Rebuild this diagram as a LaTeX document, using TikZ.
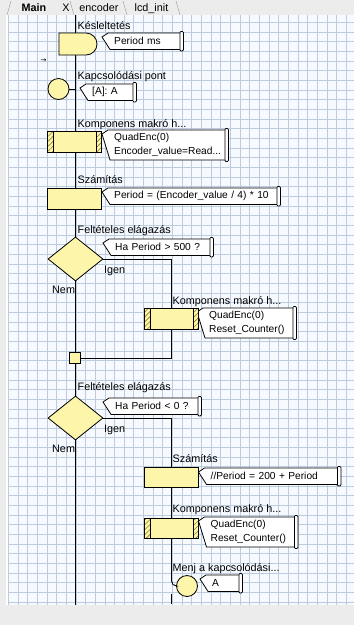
\documentclass[tikz,border=0pt]{standalone}
\usepackage{fontspec}
\setmainfont{Liberation Sans}
\newfontfamily\symfont{DejaVu Sans}
\usetikzlibrary{shapes.geometric, shapes.misc, patterns.meta, backgrounds, calc}
\definecolor{flowyellow}{RGB}{253, 246, 170}
\definecolor{hatchbrown}{RGB}{140, 120, 40}
\definecolor{gridblue}{RGB}{188, 204, 222}
\definecolor{paperblue}{RGB}{246, 250, 255}
\definecolor{panelgray}{RGB}{236, 236, 236}
\definecolor{tabline}{RGB}{150, 150, 150}

\begin{document}
\begin{tikzpicture}[
  x=1pt, y=-1pt,
  lbl/.style={anchor=base west, inner sep=0pt, font=\fontsize{10.8}{12}\selectfont},
  tabtxt/.style={anchor=base, inner sep=0pt, font=\fontsize{10.8}{12}\selectfont},
  fshape/.style={draw, line width=0.8pt, fill=flowyellow, inner sep=0pt},
  calcbox/.style={fshape, rectangle, minimum width=54pt, minimum height=21pt},
  macrobox/.style={calcbox, path picture={
      \fill[pattern={Lines[angle=45, distance=3.5pt, line width=0.6pt]}, pattern color=hatchbrown]
        (path picture bounding box.north west) rectangle ([xshift=6pt]path picture bounding box.south west);
      \fill[pattern={Lines[angle=45, distance=3.5pt, line width=0.6pt]}, pattern color=hatchbrown]
        (path picture bounding box.north east) rectangle ([xshift=-5pt]path picture bounding box.south east);
      \draw[line width=0.8pt] ([xshift=6pt]path picture bounding box.north west) -- ([xshift=6pt]path picture bounding box.south west);
      \draw[line width=0.8pt] ([xshift=-5pt]path picture bounding box.north east) -- ([xshift=-5pt]path picture bounding box.south east);
    }},
  delaybox/.style={fshape, rounded rectangle, rounded rectangle left arc=none, minimum width=38pt, minimum height=22pt},
  pointc/.style={fshape, circle, minimum size=21pt},
  decbox/.style={fshape, diamond, minimum width=55pt, minimum height=44pt},
  joinbox/.style={fshape, rectangle, minimum size=11pt},
  cmt/.style={anchor=north west, inner xsep=3pt, inner ysep=3.3pt, minimum height=16pt, align=left, text width=#1, font=\fontsize{10.2}{13.5}\selectfont},
  cmtline/.style={draw, line width=0.8pt, fill=white},
  flow/.style={line width=0.9pt}
]
\useasboundingbox (0,0) rectangle (354,625);

% window and grid paper
\begin{scope}[on background layer]
  \fill[panelgray] (0,0) rectangle (354,625);
  \fill[white] (6,15) rectangle (8,605);
  \fill[paperblue] (8,15) rectangle (354,605);
  \foreach \i in {0,...,35}
    \draw[gridblue, line width=0.6pt] ({8.2+9.66*\i},15) -- ({8.2+9.66*\i},605);
  \foreach \j in {0,...,60}
    \draw[gridblue, line width=0.6pt] (8,{22.4+9.66*\j}) -- (354,{22.4+9.66*\j});
\end{scope}

% tabs
\draw[tabline] (7,15) -- (11,1);
\draw[tabline] (70,1) -- (74,15);
\draw[tabline] (123,1) -- (127,15);
\draw[tabline] (176,1) -- (180,15);
\node[tabtxt, font=\bfseries\fontsize{10.8}{12}\selectfont] (tabMain) at (34,11) {Main};
\node[tabtxt] (tabX) at (66,11) {X};
\node[tabtxt] (tabEnc) at (99,11) {encoder};
\node[tabtxt] (tabLcd) at (151.5,11) {lcd\_init};

% main line
\coordinate (top) at (75.5,15);
\coordinate (bot) at (75.5,605);
\draw[flow] (top) -- (bot);

\node[inner sep=0pt, font=\symfont\fontsize{7}{8}\selectfont] (entry) at (43.5,60.5) {→};

% flowchart icons
\node[delaybox] (delay) at (78,44) {};
\node[pointc] (kp) at (58.5,89) {};
\node[macrobox] (mac1) at (74.5,141.5) {};
\node[calcbox] (calc1) at (74.5,198.5) {};
\node[decbox] (dec1) at (75.5,259) {};
\node[macrobox] (mac2) at (171.5,318.5) {};
\node[joinbox] (join1) at (75,358) {};
\node[decbox] (dec2) at (75.5,418) {};
\node[calcbox, minimum height=20pt] (calc2) at (171.5,477.5) {};
\node[macrobox, minimum height=20pt] (mac3) at (171.5,528) {};
\node[pointc] (gotokp) at (187,586) {};

% icon titles
\node[lbl] (tDelay) at (77.5,29) {Késleltetés};
\node[lbl] (tKp) at (77.5,79.5) {Kapcsolódási pont};
\node[lbl] (tMac1) at (77.5,127) {Komponens makró h...};
\node[lbl] (tCalc1) at (77.5,183.5) {Számítás};
\node[lbl] (tDec1) at (77.5,233) {Feltételes elágazás};
\node[lbl] (tYes1) at (104,273) {Igen};
\node[lbl] (tNo1) at (52,293) {Nem};
\node[lbl] (tMac2) at (172.5,304) {Komponens makró h...};
\node[lbl] (tDec2) at (77.5,390.5) {Feltételes elágazás};
\node[lbl] (tYes2) at (104,432.5) {Igen};
\node[lbl] (tNo2) at (52,452.5) {Nem};
\node[lbl] (tCalc2) at (172.5,462.5) {Számítás};
\node[lbl] (tMac3) at (172.5,512.5) {Komponens makró h...};
\node[lbl] (tGoto) at (172.5,571.5) {Menj a kapcsolódási...};

% branches
\draw[flow] (kp.east) -- (kp.east -| top);
\draw[flow] (dec1.east) -| (mac2.north);
\draw[flow] (mac2.south) |- (join1.east);
\draw[flow] (dec2.east) -| (calc2.north);
\draw[flow] (calc2.south) -- (mac3.north);
\draw[flow, rounded corners=5pt] (mac3.south) |- (gotokp.west);
\coordinate (stubA) at (171.5,594);
\coordinate (stubB) at (171.5,604);
\draw[flow] (stubA) -- (stubB);

% comments
\node[cmt=66pt] (cPer) at (111,33) {Period ms};
\node[cmt=41pt] (cA) at (89,84) {[A]: A};
\node[cmt=111pt] (cEnc) at (111,130) {QuadEnc(0)\\Encoder\_value=Read...};
\node[cmt=163pt] (cCalc) at (111,188) {Period = (Encoder\_value / 4) * 10};
\node[cmt=95pt] (cIf1) at (112,239) {Ha Period > 500 ?};
\node[cmt=84pt] (cRst1) at (206,308) {QuadEnc(0)\\Reset\_Counter()};
\node[cmt=83pt] (cIf2) at (112,398) {Ha Period < 0 ?};
\node[cmt=127pt] (cCalc2) at (207.5,468) {//Period = 200 + Period};
\node[cmt=84pt] (cRst2) at (207.5,517) {QuadEnc(0)\\Reset\_Counter()};
\node[cmt=27pt] (cGoto) at (209,575) {A};

\begin{scope}[on background layer]
  \foreach \c in {cPer, cA, cEnc, cCalc, cIf1, cRst1, cIf2, cCalc2, cRst2, cGoto} {
    \draw[cmtline] ([xshift=-3pt]\c.north west) -- ([xshift=-9pt, yshift=-4pt]\c.north west)
      -- ([xshift=-1pt]\c.south west) -- ([xshift=-3pt]\c.south east)
      -- ([xshift=-3pt]\c.north east) -- cycle;
    \draw[cmtline, rounded corners=1pt] ([xshift=-3.5pt, yshift=1.5pt]\c.north east) rectangle ([yshift=-1.5pt]\c.south east);
  }
\end{scope}
\end{tikzpicture}
\end{document}
